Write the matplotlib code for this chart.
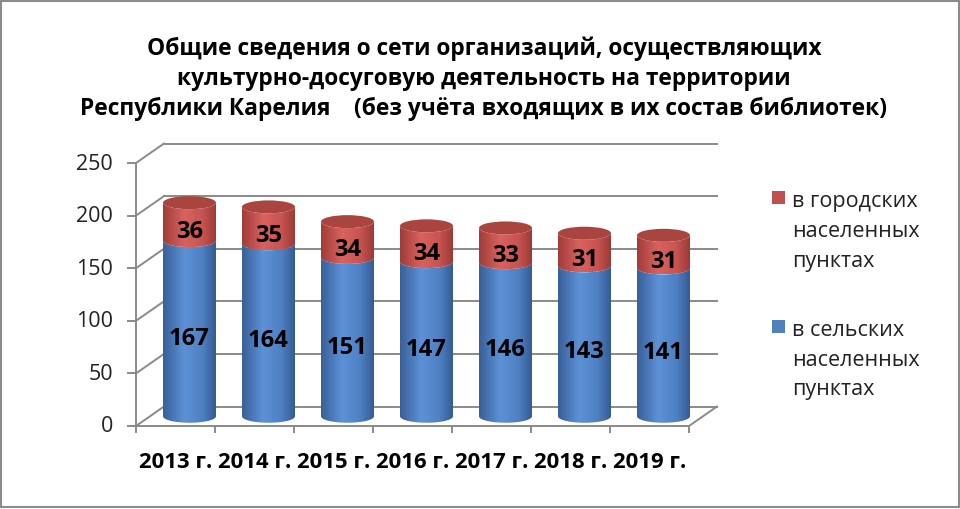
import numpy as np
import matplotlib
matplotlib.use('Agg')
import matplotlib.pyplot as plt
from matplotlib.patches import PathPatch, Ellipse, Rectangle
from matplotlib.path import Path
from matplotlib.colors import LinearSegmentedColormap

plt.rcParams['font.family'] = ['Open Sans', 'DejaVu Sans']

# data
years = ['2013 г.', '2014 г.', '2015 г.', '2016 г.', '2017 г.', '2018 г.', '2019 г.']
rural = [167, 164, 151, 147, 146, 143, 141]
urban = [36, 35, 34, 34, 33, 31, 31]
yticks = [0, 50, 100, 150, 200, 250]
title_lines = ['Общие сведения о сети организаций, осуществляющих',
               'культурно-досуговую деятельность на территории',
               'Республики Карелия    (без учёта входящих в их состав библиотек)']
legend_urban = ['в городских', 'населенных', 'пунктах']
legend_rural = ['в сельских', 'населенных', 'пунктах']

W, H = 960, 510
fig = plt.figure(figsize=(W / 100, H / 100), dpi=100)

# axes placed in pixel terms, data units = categories / values
ax_l, ax_r, ax_t, ax_b = 100, 760, 130, 445
ax = fig.add_axes([ax_l / W, (H - ax_b) / H, (ax_r - ax_l) / W, (ax_b - ax_t) / H])
ax.axis('off')
px_x = 79.0            # px per category
px_y = 263.0 / 250     # px per value unit
x_front, y_zero = 136, 427
xlim = (-0.5 - (x_front - ax_l) / px_x, -0.5 + (ax_r - x_front) / px_x)
ylim = (-(ax_b - y_zero) / px_y, (y_zero - ax_t) / px_y)

dx = 28 / px_x          # depth offset
dy = 19.5 / px_y
n = len(years)
grid_c = '#8a8a8a'
lw = 1.4

# walls and floor
ax.plot([-0.5, -0.5], [0, yticks[-1]], color=grid_c, lw=lw, zorder=1)
for v in yticks:
    ax.plot([-0.5, -0.5 + dx], [v, v + dy], color=grid_c, lw=lw, zorder=1)
    ax.plot([-0.5 + dx, n - 0.5 + dx], [v + dy, v + dy], color=grid_c, lw=lw, zorder=1)
    ax.plot([-0.5 - 8 / px_x, -0.5], [v, v], color=grid_c, lw=lw, zorder=1)
    ax.text(-0.5 - 23 / px_x, v, str(v), ha='right', va='center', fontsize=15.5, color='#222222')
ax.plot([-0.5, n - 0.5], [0, 0], color=grid_c, lw=lw, zorder=1)
ax.plot([n - 0.5, n - 0.5 + dx], [0, dy], color=grid_c, lw=lw, zorder=1)
for i in range(n + 1):
    ax.plot([i - 0.5, i - 0.5], [0, -6 / px_y], color=grid_c, lw=lw, zorder=1)

blue_cm = LinearSegmentedColormap.from_list('b', [(0, '#385f98'), (0.4, '#5d91d6'), (0.75, '#4e80c2'), (1, '#355b93')])
red_cm = LinearSegmentedColormap.from_list('r', [(0, '#9f3c39'), (0.4, '#d9625e'), (0.75, '#c65450'), (1, '#9b3a37')])

rx = 26.5 / px_x
ry = 6.5 / px_y
t = np.linspace(np.pi, 2 * np.pi, 60)


def body(xc, y0, y1, cmap, z):
    bot = np.column_stack([xc + rx * np.cos(t), y0 + ry * np.sin(t)])
    top = np.column_stack([xc + rx * np.cos(t[::-1]), y1 + ry * np.sin(t[::-1])])
    pts = np.vstack([[xc - rx, y1], bot, top])
    patch = PathPatch(Path(pts, closed=True), transform=ax.transData, facecolor='none', edgecolor='none')
    ax.add_patch(patch)
    grad = np.linspace(0, 1, 256).reshape(1, -1)
    im = ax.imshow(grad, cmap=cmap, extent=[xc - rx, xc + rx, y0 - ry, y1 + ry],
                   aspect='auto', origin='lower', zorder=z, interpolation='bilinear')
    im.set_clip_path(patch)


for i in range(n):
    xc = i + dx / 2
    base = dy / 2
    body(xc, base, base + rural[i], blue_cm, 2)
    body(xc, base + rural[i], base + rural[i] + urban[i], red_cm, 3)
    ax.add_patch(Ellipse((xc, base + rural[i] + urban[i]), 2 * rx, 2 * ry,
                         facecolor='#a9443f', edgecolor='none', zorder=4))
    ax.text(xc, rural[i] / 2, str(rural[i]), ha='center', va='center',
            fontsize=17.2, fontweight='bold', color='black', zorder=6)
    ax.text(xc, rural[i] + urban[i] / 2, str(urban[i]), ha='center', va='center',
            fontsize=17.2, fontweight='bold', color='black', zorder=6)
    ax.text(i, -(463 - y_zero) / px_y, years[i], ha='center', va='center',
            fontsize=15.9, fontweight='bold', color='black')

ax.set_xlim(*xlim)
ax.set_ylim(*ylim)

# title, one text per line
for k, line in enumerate(title_lines):
    fig.text(484 / W, 1 - (55 + 30 * k) / H, line, ha='center', va='baseline',
             fontsize=16.4, fontweight='bold')

# legend
for yc, col, labs in [(198.5, '#c0504d', legend_urban), (327, '#4f81bd', legend_rural)]:
    fig.patches.append(Rectangle(((778 - 6.5) / W, 1 - (yc + 6.5) / H), 13 / W, 13 / H,
                                 transform=fig.transFigure, facecolor=col, edgecolor='none'))
    for k, lab in enumerate(labs):
        fig.text(792 / W, 1 - (yc + 8.5 + 30 * k) / H, lab, ha='left', va='baseline',
                 fontsize=15.5, color='#222222')

# outer border
fig.patches.append(Rectangle((0.5 / W, 2.5 / H), (W - 1.5) / W, (H - 4.5) / H, transform=fig.transFigure,
                             facecolor='none', edgecolor='#8c8c8c', lw=1.5))

fig.savefig('out.png', dpi=100)
